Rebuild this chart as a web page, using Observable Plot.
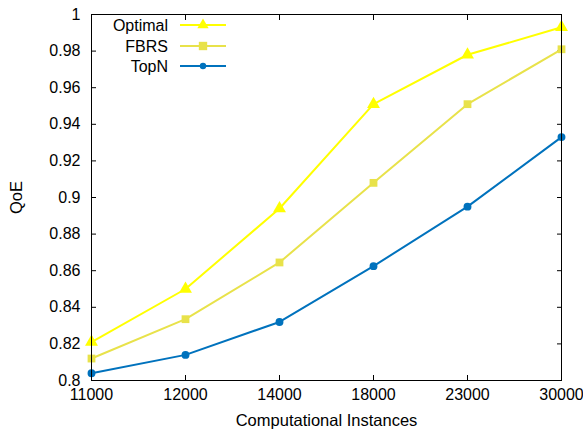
<!DOCTYPE html>
<html>
<head>
<meta charset="utf-8">
<script src="https://cdn.jsdelivr.net/npm/d3@7"></script>
<script src="https://cdn.jsdelivr.net/npm/@observablehq/plot@0.6"></script>
<style>
  html, body { margin: 0; padding: 0; background: #fff; }
  #chart { position: relative; width: 583px; height: 434px; font-family: "Liberation Sans", Arial, sans-serif; }
  #legend { position: absolute; left: 0; top: 0; pointer-events: none; }
</style>
</head>
<body>
<div id="chart"></div>
<script>
const instances = ["11000", "12000", "14000", "18000", "23000", "30000"];
const optimal = [0.821, 0.850, 0.894, 0.951, 0.978, 0.993];
const fbrs    = [0.812, 0.8335, 0.8645, 0.908, 0.951, 0.981];
const topn    = [0.804, 0.814, 0.832, 0.8625, 0.895, 0.933];
const seriesNames = ["Optimal", "FBRS", "TopN"];
const seriesColors = ["#ffff00", "#e8e24a", "#0072bd"];
const seriesSymbols = ["triangle", "square", "circle"];
const yTicks = [0.8, 0.82, 0.84, 0.86, 0.88, 0.9, 0.92, 0.94, 0.96, 0.98, 1];

const allValues = [optimal, fbrs, topn];
const rows = [];
seriesNames.forEach((s, i) => instances.forEach((x, j) => rows.push({series: s, x, y: allValues[i][j]})));

const fmt = d => String(+(+d).toFixed(2));
const W = 583, H = 434;
const FONT = "'Liberation Sans', Arial, sans-serif";

const marks = [];
seriesNames.forEach((s, i) => {
  const data = rows.filter(r => r.series === s);
  marks.push(Plot.line(data, {x: "x", y: "y", stroke: seriesColors[i], strokeWidth: 2}));
  if (seriesSymbols[i] === "circle") {
    marks.push(Plot.dot(data, {x: "x", y: "y", r: 3.2, fill: seriesColors[i], stroke: seriesColors[i]}));
  } else if (seriesSymbols[i] === "triangle") {
    marks.push(Plot.dot(data, {x: "x", y: "y", r: 4.8, symbol: "triangle", fill: seriesColors[i]}));
  } else {
    marks.push(Plot.dot(data, {x: "x", y: "y", r: 4.4, symbol: "square", fill: seriesColors[i]}));
  }
});

const plot = Plot.plot({
  width: W,
  height: H,
  marginLeft: 91,
  marginRight: 22,
  marginTop: 14,
  marginBottom: 54,
  style: {fontFamily: FONT, fontSize: "16px", background: "#fff", color: "#000", overflow: "visible"},
  x: {type: "point", domain: instances, padding: 0, label: null},
  y: {domain: [0.8, 1], label: null},
  marks: [
    // inward ticks on all four sides
    Plot.axisX({anchor: "bottom", tickSize: -5, tickFormat: () => "", label: null}),
    Plot.axisX({anchor: "top", tickSize: -5, tickFormat: () => "", label: null}),
    Plot.axisY(yTicks, {anchor: "left", tickSize: -5, tickFormat: () => "", label: null}),
    Plot.axisY(yTicks, {anchor: "right", tickSize: -5, tickFormat: () => "", label: null}),
    // tick labels
    Plot.axisX({anchor: "bottom", tickSize: 0, tickPadding: 8, fontSize: 16, label: null}),
    Plot.axisY(yTicks, {anchor: "left", tickSize: 0, tickPadding: 11, tickFormat: fmt, fontSize: 16, label: null}),
    // axis titles
    Plot.text(["Computational Instances"], {frameAnchor: "bottom", lineAnchor: "middle", textAnchor: "middle", dy: 40, fontSize: 16.5}),
    Plot.text(["QoE"], {frameAnchor: "left", lineAnchor: "middle", textAnchor: "middle", rotate: -90, dx: -75, fontSize: 16.5}),
    ...marks,
    Plot.frame({stroke: "#000", strokeWidth: 1})
  ]
});

const chart = document.getElementById("chart");
chart.appendChild(plot);

// Legend overlay (inside plot, top-left)
const leg = d3.select(chart).append("svg")
  .attr("id", "legend")
  .attr("width", W).attr("height", H);
const rowsY = [25, 46, 66];
seriesNames.forEach((s, i) => {
  const g = leg.append("g").attr("transform", `translate(0,${rowsY[i]})`);
  g.append("text").attr("x", 168).attr("y", 0).attr("dy", "0.35em")
    .attr("text-anchor", "end")
    .attr("font-family", FONT)
    .attr("font-size", 16).attr("fill", "#000").text(s);
  g.append("line").attr("x1", 180).attr("x2", 226).attr("y1", 0).attr("y2", 0)
    .attr("stroke", seriesColors[i]).attr("stroke-width", 2);
  const sym = {triangle: d3.symbolTriangle, square: d3.symbolSquare, circle: d3.symbolCircle}[seriesSymbols[i]];
  const size = seriesSymbols[i] === "circle" ? 32 : (seriesSymbols[i] === "triangle" ? 55 : 70);
  g.append("path").attr("transform", "translate(203,0)")
    .attr("d", d3.symbol(sym, size)())
    .attr("fill", seriesColors[i]);
});
</script>
</body>
</html>
